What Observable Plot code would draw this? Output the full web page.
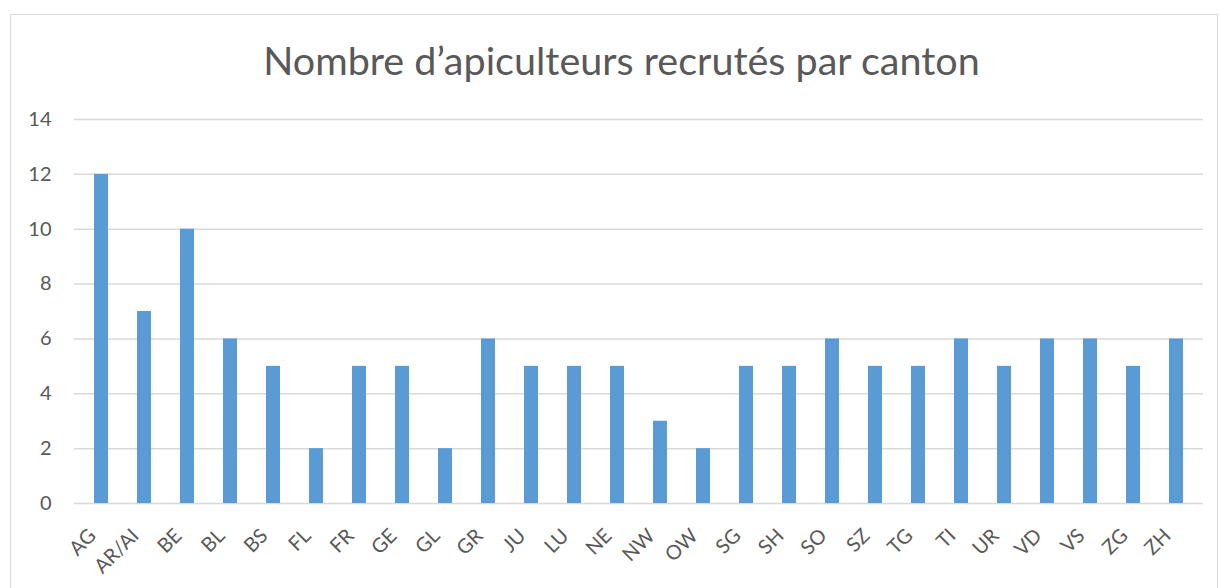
<!DOCTYPE html>
<html>
<head>
<meta charset="utf-8">
<script src="https://cdn.jsdelivr.net/npm/d3@7"></script>
<script src="https://cdn.jsdelivr.net/npm/@observablehq/plot@0.6"></script>
<style>
  html, body { margin: 0; padding: 0; background: #fff; }
  #wrap { position: relative; width: 1219px; height: 588px; overflow: hidden; font-family: Lato, "Open Sans", sans-serif; }
  #frame { position: absolute; left: 10px; top: 14px; width: 1208px; height: 600px; border: 1.5px solid #d9d9d9; box-sizing: border-box; }
  #title { position: absolute; left: 0; width: 1243px; top: 36px; text-align: center; font-size: 39.5px; line-height: normal; color: #595959; white-space: nowrap; }
  #chart { position: absolute; left: 0; top: 0; }
</style>
</head>
<body>
<div id="wrap">
  <div id="frame"></div>
  <div id="title">Nombre d’apiculteurs recrutés par canton</div>
  <div id="chart"></div>
</div>
<script>
const cantons = ["AG","AR/AI","BE","BL","BS","FL","FR","GE","GL","GR","JU","LU","NE","NW","OW","SG","SH","SO","SZ","TG","TI","UR","VD","VS","ZG","ZH"];
const counts = [12,7,10,6,5,2,5,5,2,6,5,5,5,3,2,5,5,6,5,5,6,5,6,6,5,6];
const yTicks = [0,2,4,6,8,10,12,14];

const data = cantons.map((c, i) => ({canton: c, n: counts[i]}));

const chart = Plot.plot({
  width: 1219,
  height: 588,
  marginLeft: 74,
  marginRight: 16,
  marginTop: 119,
  marginBottom: 85,
  style: {fontFamily: "Lato, 'Open Sans', sans-serif", fontSize: "20px", color: "#595959", background: "transparent"},
  x: {domain: cantons, paddingInner: 0.685, paddingOuter: 0.3425, align: 0.5, label: null, axis: null},
  y: {domain: [0, 14], ticks: yTicks, label: null, axis: null},
  marks: [
    Plot.gridY(yTicks, {stroke: "#d9d9d9", strokeOpacity: 1, strokeWidth: 1.5}),
    Plot.barY(data, {x: "canton", y: "n", fill: "#5b9bd5"}),
    Plot.axisY(yTicks, {tickSize: 0, tickPadding: 23, fontSize: 20, label: null}),
    Plot.axisX({tickSize: 0, tickPadding: 29, tickRotate: -45, dx: -9, fontSize: 20, label: null})
  ]
});
document.getElementById("chart").appendChild(chart);
</script>
</body>
</html>
